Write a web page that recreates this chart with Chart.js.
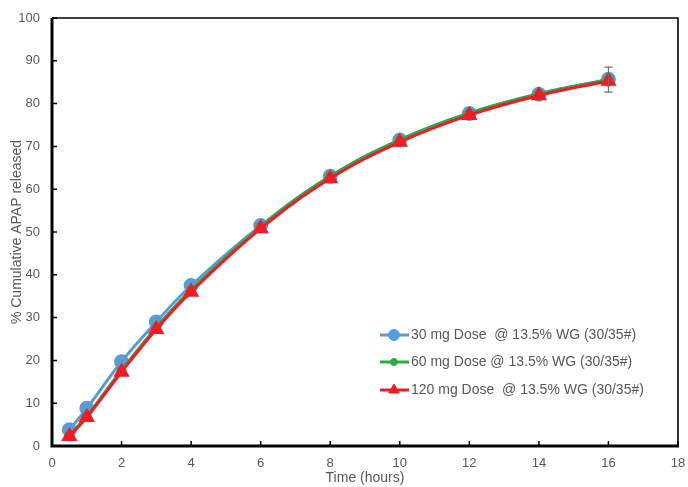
<!DOCTYPE html>
<html>
<head>
<meta charset="utf-8">
<script src="https://cdn.jsdelivr.net/npm/chart.js@4.4.1/dist/chart.umd.min.js"></script>
<style>
html,body{margin:0;padding:0;background:#fff;}
#wrap{width:688px;height:487px;position:relative;}
</style>
</head>
<body>
<div id="wrap"><canvas id="c" width="688" height="487"></canvas></div>
<script>
const times = [0.5, 1, 2, 3, 4, 6, 8, 10, 12, 14, 16];
const dose30 = [3.8, 8.8, 19.7, 29.0, 37.5, 51.5, 63.0, 71.5, 77.7, 82.2, 85.7];
const dose60 = [2.5, 7.0, 17.7, 27.7, 36.5, 51.2, 63.0, 71.5, 77.8, 82.3, 85.6];
const dose120 = [2.3, 6.7, 17.3, 27.3, 36.0, 50.8, 62.5, 71.0, 77.3, 81.9, 85.3];
const errTime = 16;
const errCenter = 85.6;
const errHalf = 2.9;
const xTicks = [0, 2, 4, 6, 8, 10, 12, 14, 16, 18];
const yTicks = [0, 10, 20, 30, 40, 50, 60, 70, 80, 90, 100];
const labels = ['30 mg Dose  @ 13.5% WG (30/35#)', '60 mg Dose @ 13.5% WG (30/35#)', '120 mg Dose  @ 13.5% WG (30/35#)'];

const BLUE = '#5B9BD5', GREEN = '#2EA84A', RED = '#EE1D25';
const FONT = 'Liberation Sans, Arial, sans-serif';
const TXT = '#595959';

function pts(ys){ return times.map((t,i)=>({x:t,y:ys[i]})); }

const framePlugin = {
  id: 'frame',
  beforeDatasetsDraw(chart){
    const {ctx, chartArea:a, scales:{x,y}} = chart;
    ctx.save();
    ctx.strokeStyle = '#000';
    ctx.lineWidth = 1.6;
    ctx.beginPath();
    ctx.moveTo(a.left, a.top); ctx.lineTo(a.right, a.top); ctx.lineTo(a.right, a.bottom);
    ctx.stroke();
    ctx.lineWidth = 1.5;
    ctx.beginPath();
    yTicks.forEach(v=>{ const py=y.getPixelForValue(v); ctx.moveTo(a.left, py); ctx.lineTo(a.left+5, py); });
    xTicks.forEach(v=>{ const px=x.getPixelForValue(v); ctx.moveTo(px, a.bottom); ctx.lineTo(px, a.bottom-5); });
    ctx.stroke();
    ctx.lineWidth = 3;
    ctx.beginPath();
    ctx.moveTo(a.left, a.top); ctx.lineTo(a.left, a.bottom); ctx.lineTo(a.right+1, a.bottom);
    ctx.stroke();
    ctx.restore();
  },
  afterDatasetsDraw(chart){
    const {ctx, scales:{x,y}} = chart;
    const px = x.getPixelForValue(errTime);
    const top = y.getPixelForValue(errCenter+errHalf), bot = y.getPixelForValue(errCenter-errHalf);
    ctx.save();
    ctx.strokeStyle = '#6d6d6d';
    ctx.lineWidth = 1.2;
    ctx.beginPath();
    ctx.moveTo(px, top); ctx.lineTo(px, bot);
    ctx.moveTo(px-4, top); ctx.lineTo(px+4, top);
    ctx.moveTo(px-4, bot); ctx.lineTo(px+4, bot);
    ctx.stroke();
    ctx.restore();
  },
  afterDraw(chart){
    const {ctx} = chart;
    const items = [
      {c:BLUE, style:'circle', r:5.5},
      {c:GREEN, style:'circle', r:3.5},
      {c:RED, style:'triangle', r:6}
    ];
    const rowsY = [335, 362, 390];
    ctx.save();
    items.forEach((it,i)=>{
      const yy = rowsY[i];
      ctx.strokeStyle = it.c; ctx.lineWidth = 3;
      ctx.beginPath(); ctx.moveTo(380, yy); ctx.lineTo(409, yy); ctx.stroke();
      ctx.fillStyle = it.c; ctx.strokeStyle = it.c; ctx.lineWidth = 1;
      Chart.helpers.drawPoint(ctx, {pointStyle: it.style, radius: it.r, borderWidth: 1, rotation: 0}, 394, yy);
      ctx.fillStyle = TXT;
      ctx.font = '14px ' + FONT;
      ctx.textBaseline = 'middle';
      ctx.textAlign = 'left';
      ctx.fillText(labels[i], 411, yy);
    });
    ctx.restore();
  }
};

new Chart(document.getElementById('c'), {
  type: 'line',
  data: {
    datasets: [
      {label: labels[2], data: pts(dose120), borderColor: RED, backgroundColor: RED, borderWidth: 3,
       pointStyle: 'triangle', pointRadius: 6.5, pointHoverRadius: 6.5, tension: 0.4, order: 1, clip: false},
      {label: labels[1], data: pts(dose60), borderColor: GREEN, backgroundColor: GREEN, borderWidth: 3,
       pointStyle: 'circle', pointRadius: 3.5, tension: 0.4, order: 2, clip: false},
      {label: labels[0], data: pts(dose30), borderColor: BLUE, backgroundColor: BLUE, borderWidth: 3,
       pointStyle: 'circle', pointRadius: 6, tension: 0.4, order: 3, clip: false}
    ]
  },
  options: {
    responsive: false,
    animation: false,
    events: [],
    layout: {padding: {top: 18, right: 10, left: 0, bottom: 0}},
    plugins: {legend: {display: false}, tooltip: {enabled: false}},
    scales: {
      x: {
        type: 'linear', min: 0, max: 18,
        afterBuildTicks(s){ s.ticks = xTicks.map(v=>({value:v})); },
        afterFit(s){ s.height = 41; s.paddingLeft = 0; s.paddingRight = 0; },
        grid: {display: false, drawTicks: false},
        border: {display: false},
        ticks: {color: TXT, font: {family: FONT, size: 13}, padding: 10, maxRotation: 0, autoSkip: false},
        title: {display: true, text: 'Time (hours)', color: TXT, font: {family: FONT, size: 14}, padding: {top: 0, bottom: 0}}
      },
      y: {
        min: 0, max: 100,
        afterBuildTicks(s){ s.ticks = yTicks.map(v=>({value:v})); },
        afterFit(s){ s.width = 52; s.paddingTop = 0; s.paddingBottom = 0; },
        grid: {display: false, drawTicks: false},
        border: {display: false},
        ticks: {color: TXT, font: {family: FONT, size: 13}, padding: 12, autoSkip: false},
        title: {display: true, text: '% Cumulative APAP released', color: TXT, font: {family: FONT, size: 14}, padding: {top: 9, bottom: 0}}
      }
    }
  },
  plugins: [framePlugin]
});
</script>
</body>
</html>
